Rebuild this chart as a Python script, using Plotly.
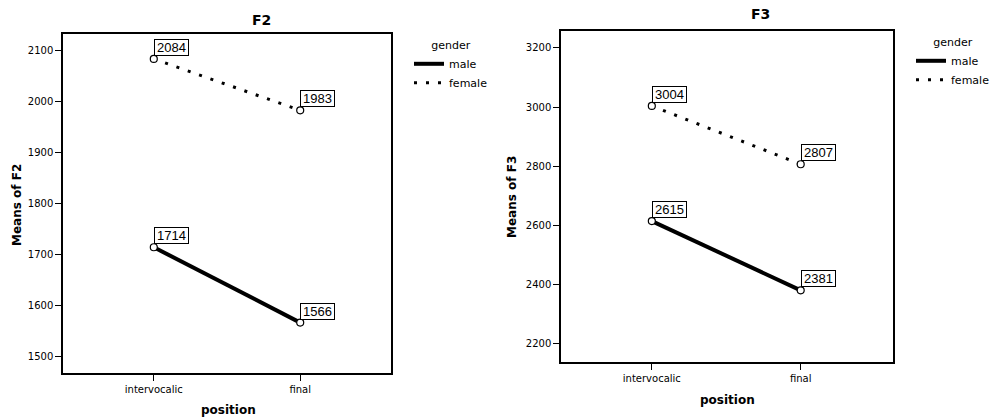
import plotly.graph_objects as go

positions = ["intervocalic", "final"]
f2_male = [1714, 1566]
f2_female = [2084, 1983]
f3_male = [2615, 2381]
f3_female = [3004, 2807]
f2_ticks = [1500, 1600, 1700, 1800, 1900, 2000, 2100]
f3_ticks = [2200, 2400, 2600, 2800, 3000, 3200]

W, H = 994, 418
FONT = "DejaVu Sans, Verdana, sans-serif"
LFONT = "Liberation Sans, Arial, sans-serif"

fig = go.Figure()

def px_x(p):
    return p / W

def px_y(p):
    return 1 - p / H

panels = [
    dict(xa="x", ya="y", male=f2_male, female=f2_female, legend="legend"),
    dict(xa="x2", ya="y2", male=f3_male, female=f3_female, legend="legend2"),
]

for pn in panels:
    xi = [0, 1]
    fig.add_trace(go.Scatter(x=xi, y=pn["male"], mode="lines", name="male",
                             line=dict(color="black", width=4),
                             xaxis=pn["xa"], yaxis=pn["ya"], legend=pn["legend"]))
    fig.add_trace(go.Scatter(x=xi, y=pn["female"], mode="lines", name="female",
                             line=dict(color="black", width=3, dash="3px,9px"),
                             xaxis=pn["xa"], yaxis=pn["ya"], legend=pn["legend"]))
    for ser in (pn["male"], pn["female"]):
        fig.add_trace(go.Scatter(x=xi, y=ser, mode="markers", showlegend=False,
                                 marker=dict(symbol="circle", size=7, color="white",
                                             line=dict(color="black", width=1.2)),
                                 xaxis=pn["xa"], yaxis=pn["ya"]))
        for xv, yv in zip(xi, ser):
            fig.add_annotation(x=xv, y=yv, xref=pn["xa"], yref=pn["ya"],
                               text=str(yv), showarrow=False, width=33,
                               xanchor="left", yanchor="bottom", xshift=0, yshift=3,
                               bordercolor="black", borderwidth=1, borderpad=0,
                               bgcolor="white",
                               font=dict(family=LFONT, size=13, color="black"))

axis_common = dict(showline=True, linecolor="black", linewidth=1.5, mirror=True,
                   ticks="outside", tickcolor="black", ticklen=6, showgrid=False,
                   zeroline=False, automargin=False,
                   tickfont=dict(family=FONT, size=10, color="black"))

leg_common = dict(xanchor="left", yanchor="top",
                  font=dict(family=FONT, size=11, color="black"),
                  bgcolor="rgba(0,0,0,0)", tracegroupgap=0, itemwidth=30)

fig.update_layout(
    width=W, height=H,
    margin=dict(l=0, r=0, t=0, b=0, autoexpand=False),
    paper_bgcolor="white", plot_bgcolor="white",
    xaxis=dict(domain=[px_x(63), px_x(391)], range=[-0.62, 1.62],
               tickvals=[0, 1], ticktext=positions, anchor="y", **axis_common),
    yaxis=dict(domain=[px_y(373), px_y(34)], range=[1467, 2133],
               tickvals=f2_ticks, anchor="x", **axis_common),
    xaxis2=dict(domain=[px_x(561), px_x(893)], range=[-0.61, 1.62],
                tickvals=[0, 1], ticktext=positions, anchor="y2", **axis_common),
    yaxis2=dict(domain=[px_y(362), px_y(31)], range=[2139, 3257],
                tickvals=f3_ticks, anchor="x2", **axis_common),
    legend=dict(x=px_x(409), y=px_y(35),
                title=dict(text="gender", side="top center",
                           font=dict(family=FONT, size=11, color="black")),
                **leg_common),
    legend2=dict(x=px_x(911), y=px_y(32),
                 title=dict(text="gender", side="top center",
                            font=dict(family=FONT, size=11, color="black")),
                 **leg_common),
)

text_annots = [
    dict(text="<b>F2</b>", x=px_x(261), y=px_y(20), size=14),
    dict(text="<b>F3</b>", x=px_x(760), y=px_y(14), size=14),
    dict(text="<b>position</b>", x=px_x(228), y=px_y(410), size=12),
    dict(text="<b>position</b>", x=px_x(727), y=px_y(400), size=12),
]
for a in text_annots:
    fig.add_annotation(x=a["x"], y=a["y"], xref="paper", yref="paper", text=a["text"],
                       showarrow=False, xanchor="center", yanchor="middle",
                       font=dict(family=FONT, size=a["size"], color="black"))
for xpx, ypx, t in [(17, 205, "<b>Means of F2</b>"), (512, 197, "<b>Means of F3</b>")]:
    fig.add_annotation(x=px_x(xpx), y=px_y(ypx), xref="paper", yref="paper", text=t,
                       showarrow=False, textangle=-90, xanchor="center", yanchor="middle",
                       font=dict(family=FONT, size=12, color="black"))

fig.write_html("out.html", config={"displayModeBar": False},
               post_script="document.body.style.margin='0';document.body.style.overflow='hidden';")
